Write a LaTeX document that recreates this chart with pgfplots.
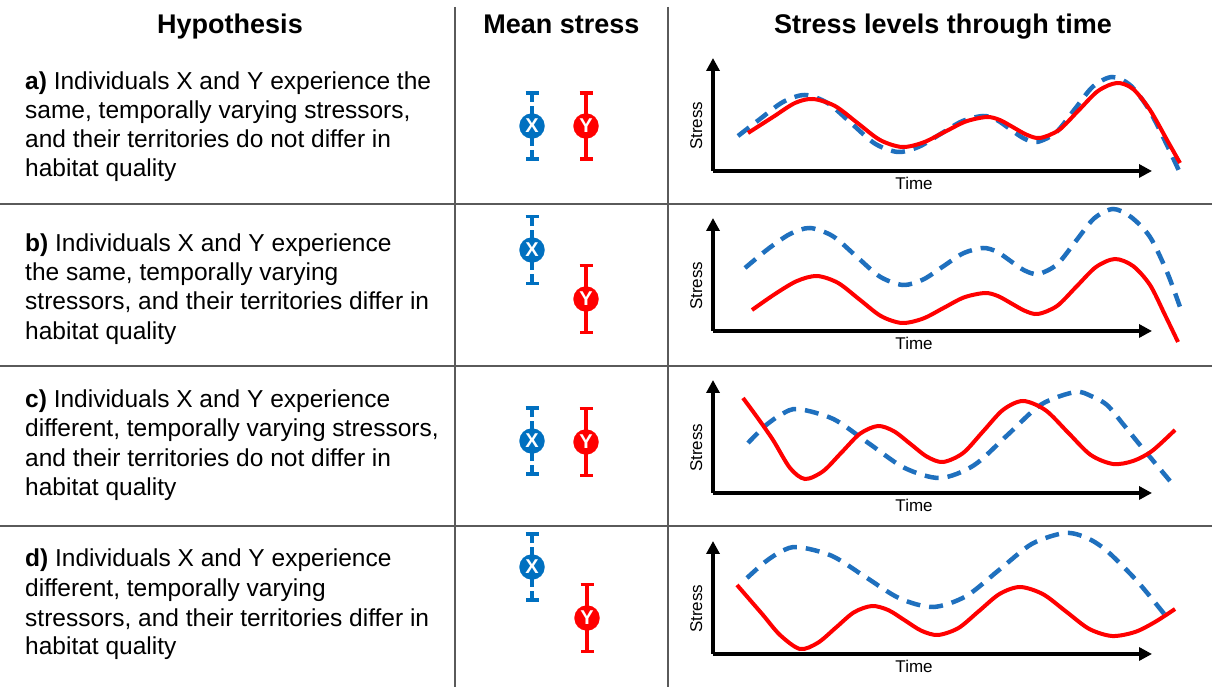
\documentclass[border=0pt]{standalone}
\usepackage{pgfplots}
\pgfplotsset{compat=1.18}
\usepackage{fontspec}
\setmainfont{Liberation Sans}
\usetikzlibrary{arrows.meta}
\definecolor{xcirc}{RGB}{0,112,192}
\definecolor{xbar}{RGB}{68,114,196}
\definecolor{ycol}{RGB}{255,0,0}
\definecolor{xline}{RGB}{31,112,190}
\definecolor{gridc}{RGB}{90,90,90}
\newcommand{\headfont}{\fontsize{27}{27}\selectfont\bfseries}
\newcommand{\bodyfont}{\fontsize{24.5}{29}\selectfont}
\pgfplotsset{
  stressax/.style={scale only axis, width=439pt, height=113pt,
    xmin=713, xmax=1152, ymin=0, ymax=113,
    axis x line=bottom, axis y line=left,
    axis line style={line width=3.6pt, -{Triangle[length=13pt, width=13pt]}},
    xtick=\empty, ytick=\empty, clip=false,
    xlabel={Time}, ylabel={Stress},
    label style={font=\fontsize{17}{17}\selectfont},
    xlabel style={at={(axis description cs:0.458,-0.168)}, anchor=base},
    ylabel style={at={(axis description cs:-0.025,0.4)}, anchor=base}},
  redc/.style={ycol, line width=4pt, smooth, no markers},
  bluec/.style={xline, line width=4.5pt, smooth, no markers, dash pattern=on 14pt off 9pt},
}
\begin{document}
\begin{tikzpicture}[x=1pt,y=1pt]
\path[use as bounding box] (0,0) rectangle (1212,687);
% table lines
\draw[gridc, line width=1.6pt] (455,680) -- (455,0);
\draw[gridc, line width=1.6pt] (668,680) -- (668,0);
\draw[gridc, line width=1.6pt] (0,483) -- (1212,483);
\draw[gridc, line width=1.6pt] (0,321) -- (1212,321);
\draw[gridc, line width=1.6pt] (0,161) -- (1212,161);
% headings
\node[anchor=base, font=\headfont, inner sep=0pt] at (230,653) {Hypothesis};
\node[anchor=base, font=\headfont, inner sep=0pt] at (561.5,653) {Mean stress};
\node[anchor=base, font=\headfont, inner sep=0pt] at (943,653) {Stress levels through time};
% hypothesis text
\begin{scope}[every node/.style={anchor=base west, font=\bodyfont, inner sep=0pt}]
\node at (25,597) {\textbf{a)} Individuals X and Y experience the};
\node at (25,568) {same, temporally varying stressors,};
\node at (25,539) {and their territories do not differ in};
\node at (25,510) {habitat quality};
\node at (25,435) {\textbf{b)} Individuals X and Y experience};
\node at (25,406) {the same, temporally varying};
\node at (25,377) {stressors, and their territories differ in};
\node at (25,347) {habitat quality};
\node at (25,279) {\textbf{c)} Individuals X and Y experience};
\node at (25,250) {different, temporally varying stressors,};
\node at (25,220) {and their territories do not differ in};
\node at (25,191) {habitat quality};
\node at (25,120) {\textbf{d)} Individuals X and Y experience};
\node at (25,90) {different, temporally varying};
\node at (25,60) {stressors, and their territories differ in};
\node at (25,32) {habitat quality};
\end{scope}
% mean stress column
\begin{axis}[at={(455,0)}, anchor=south west, scale only axis, width=213pt, height=687pt,
  xmin=455, xmax=668, ymin=0, ymax=687, y dir=reverse, hide axis, clip=false]
\addplot[only marks, mark=*, mark size=12.6pt, color=xcirc, line width=3.2pt,
  mark options={solid, line width=0.1pt, fill=xcirc},
  error bars/.cd, y dir=both, y explicit,
  error bar style={xbar, line width=3.2pt, dash pattern=on 8pt off 4pt},
  error mark options={xbar, solid, line width=3.2pt, mark size=6.5pt, rotate=90}]
  coordinates {(532,126) +- (0,33) (532,250) +- (0,33.5) (532,441) +- (0,33) (532,567) +- (0,33)};
\addplot[only marks, mark=*, mark size=12.6pt, color=ycol, line width=3.2pt,
  mark options={solid, line width=0.1pt, fill=ycol},
  error bars/.cd, y dir=both, y explicit,
  error bar style={ycol, line width=3.2pt},
  error mark options={ycol, line width=3.2pt, mark size=6.5pt, rotate=90}]
  coordinates {(586,126) +- (0,33) (586,299) +- (0,33.5) (586,442) +- (0,33.5) (587,618) +- (0,33.5)};
\end{axis}
\begin{scope}[every node/.style={text=white, font=\fontsize{20}{20}\selectfont\bfseries, inner sep=0pt}]
\node at (532,561) {X};
\node at (532,437) {X};
\node at (532,246) {X};
\node at (532,120) {X};
\node at (586,561) {Y};
\node at (586,388) {Y};
\node at (586,245) {Y};
\node at (587,69) {Y};
\end{scope}
% panel a
\begin{axis}[stressax, at={(713,516)}, anchor=south west]
\addplot[bluec] coordinates {(738,35) (760,52) (783,69) (805,76) (828,67.7) (851.5,47.5) (875,27.3) (898,19) (919,24.3) (940.5,37) (962,49.7) (983,55) (996.5,51.2) (1010,42) (1023.5,32.8) (1037,29) (1056,38.5) (1074.5,61.5) (1093,84.5) (1112,94) (1130,86) (1148,63) (1165,30) (1180,-2)};
\addplot[redc] coordinates {(748,38) (773,54) (795,68) (813,72) (835,65) (857.5,48) (880,31) (902,24) (923,28.4) (944.5,39) (966,49.6) (987,54) (1000,50.9) (1013.5,43.5) (1027,36.1) (1040,33) (1059,41) (1078.5,60.5) (1098,80) (1117,88) (1133,82) (1150,61) (1167,31) (1180,8)};
\end{axis}
% panel b
\begin{axis}[stressax, at={(713,356)}, anchor=south west]
\addplot[bluec] coordinates {(745,63) (768,82) (790,97) (810,103) (833,94.7) (856.5,74.5) (880,54.3) (903,46) (923,51.4) (943,64.5) (963,77.6) (983,83) (997,79.2) (1010.5,70) (1024,60.8) (1038,57) (1057,66.5) (1075.5,89.5) (1094,112.5) (1113,122) (1131,114) (1150,94) (1167,59) (1180,24)};
\addplot[redc] coordinates {(752,21) (775,37) (797,50) (817,55) (838,48.1) (859.5,31.5) (881,14.9) (902,8) (923,12.4) (943.5,23) (964,33.6) (985,38) (998,34.9) (1011.5,27.5) (1025,20.1) (1038,17) (1057,25) (1076.5,44.5) (1096,64) (1115,72) (1133,65) (1150,46) (1165,16) (1178,-11)};
\end{axis}
% panel c
\begin{axis}[stressax, at={(713,194)}, anchor=south west]
\addplot[bluec] coordinates {(748,50) (765,67) (782,79) (798,84) (833.5,73.9) (869,49.5) (904.5,25.1) (940,15) (973.75,27.6) (1007.5,58) (1041,88.4) (1075,101) (1091,97) (1107,88) (1123,69) (1140,48) (1170,12)};
\addplot[redc] coordinates {(743,95) (757,76) (773,53) (790,25) (805,14) (823,21.7) (841.5,40.5) (860,59.3) (878,67) (894,61.7) (910.5,49) (927,36.3) (943,31) (963,39.9) (983,61.5) (1003,83.1) (1023,92) (1045.5,82.8) (1068,60.5) (1090.5,38.2) (1113,29) (1133,32) (1152,42) (1175,63)};
\end{axis}
% panel d
\begin{axis}[stressax, at={(713,33)}, anchor=south west]
\addplot[bluec] coordinates {(747,76) (765,92) (782,103) (798,107) (831.75,98.2) (865.5,77) (899.25,55.8) (933,47) (966,57.8) (999,84) (1032,110.2) (1065,121) (1087,116) (1107,103) (1137,73) (1165,39)};
\addplot[redc] coordinates {(737,69) (750,54) (763,39) (780,19) (800,5) (818,11.3) (836,26.5) (854,41.7) (872,48) (888.5,43.8) (905,33.5) (921.5,23.2) (938,19) (958.5,26) (979,43) (999.5,60) (1020,67) (1043,59.8) (1066,42.5) (1089,25.2) (1112,18) (1135,22) (1155,32) (1175,45)};
\end{axis}
\end{tikzpicture}
\end{document}
